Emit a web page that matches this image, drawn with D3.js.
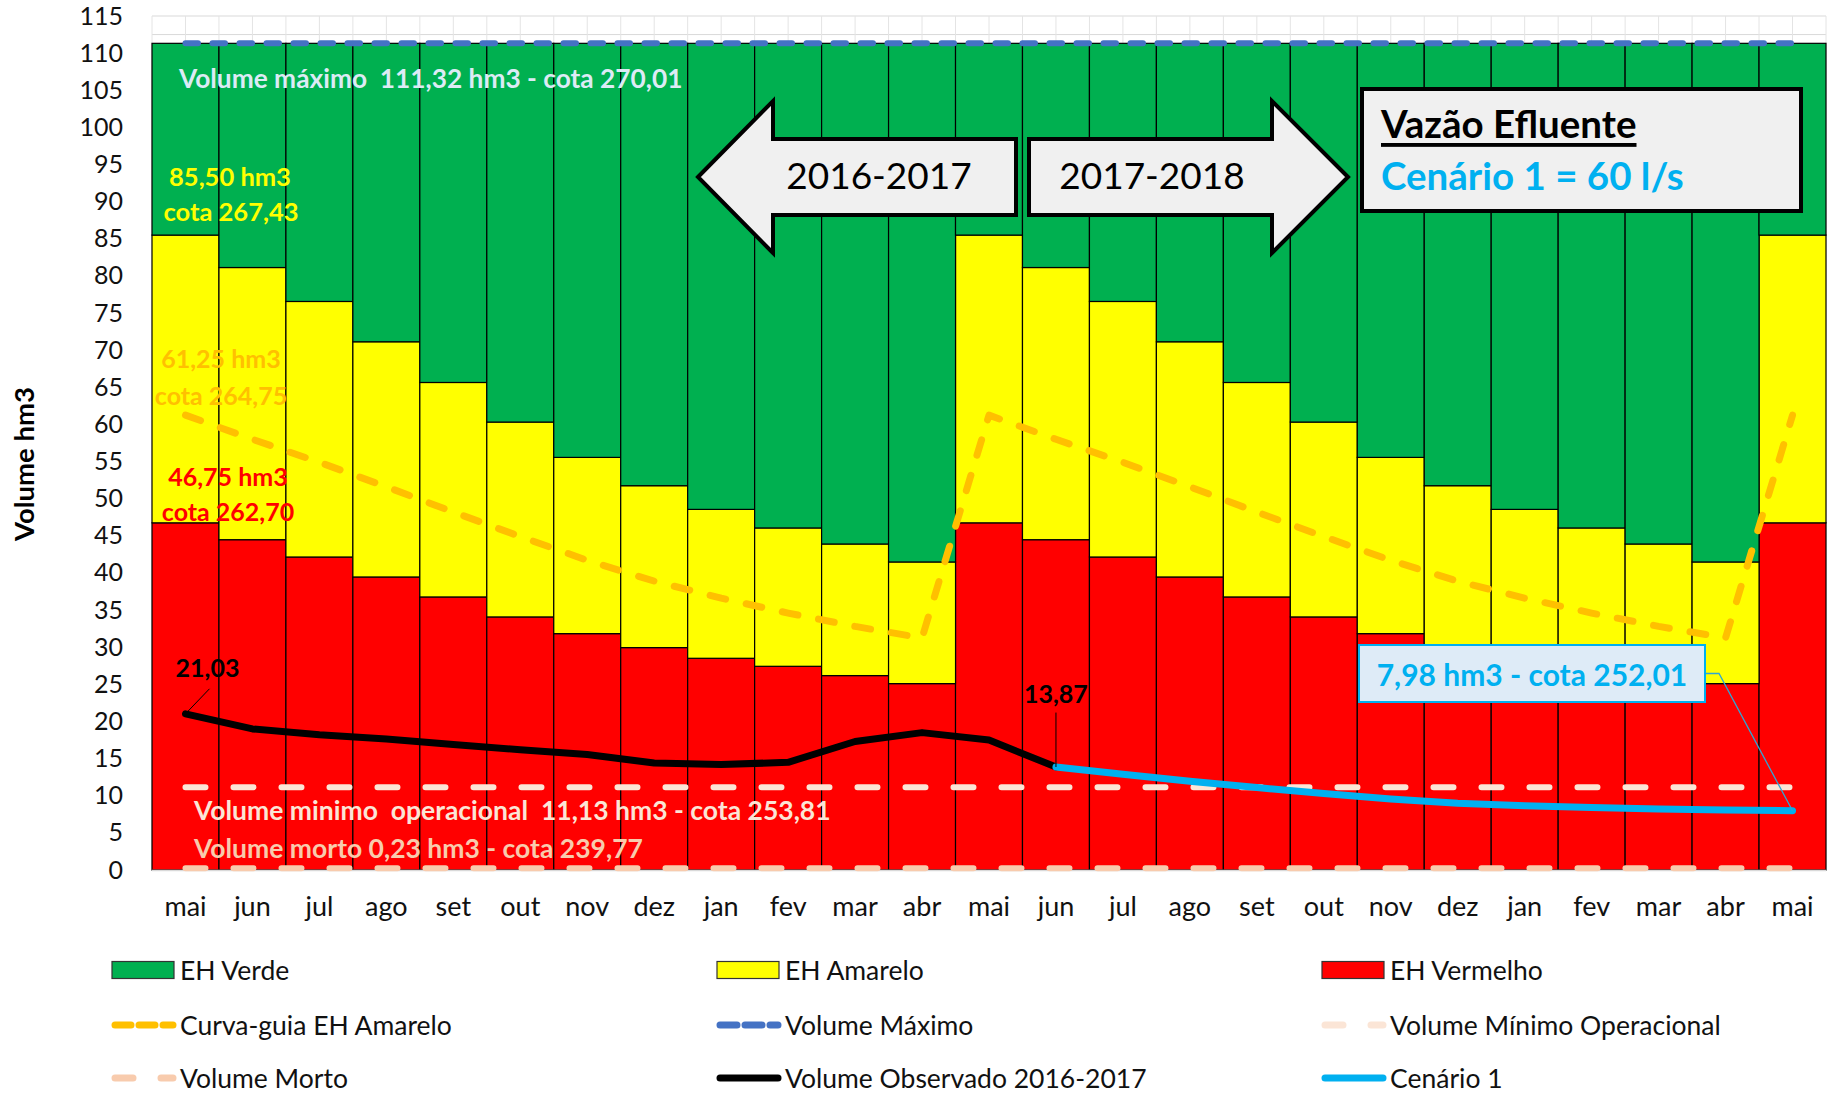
<!DOCTYPE html>
<html><head><meta charset="utf-8">
<script src="https://cdn.jsdelivr.net/npm/d3@7"></script>
<style>
body{margin:0;background:#fff}
svg{display:block}
text{font-family:Lato,'Open Sans',sans-serif;white-space:pre}
</style>
</head><body>
<svg id="c" width="1843" height="1096"></svg>
<script>
// ---------- DATA ----------
const months = ["mai","jun","jul","ago","set","out","nov","dez","jan","fev","mar","abr",
                "mai","jun","jul","ago","set","out","nov","dez","jan","fev","mar","abr","mai"];
const yTicks = [0,5,10,15,20,25,30,35,40,45,50,55,60,65,70,75,80,85,90,95,100,105,110,115];

// stacked bar segments (hm3)
const ehVermelho = [46.75,44.48,42.15,39.46,36.77,34.08,31.83,29.95,28.51,27.43,26.18,25.10,
                    46.75,44.48,42.15,39.46,36.77,34.08,31.83,29.95,28.51,27.43,26.18,25.10,46.75];
const ehAmarelo  = [38.75,36.65,34.41,31.67,28.88,26.24,23.73,21.80,20.05,18.63,17.72,16.38,
                    38.75,36.65,34.41,31.67,28.88,26.24,23.73,21.80,20.05,18.63,17.72,16.38,38.75];
const ehVerde    = [25.82,30.19,34.76,40.19,45.67,51.00,55.76,59.57,62.76,65.26,67.42,69.84,
                    25.82,30.19,34.76,40.19,45.67,51.00,55.76,59.57,62.76,65.26,67.42,69.84,25.82];

// line series (hm3)
const curvaGuia = [61.25,58.0,54.9,51.6,48.2,44.9,41.7,38.9,36.6,34.6,32.8,31.25,
                   61.25,58.0,54.9,51.6,48.2,44.9,41.7,38.9,36.6,34.6,32.8,31.25,61.25];
const volumeMaximo = [111.32,111.32,111.32,111.32,111.32,111.32,111.32,111.32,111.32,111.32,111.32,111.32,
                      111.32,111.32,111.32,111.32,111.32,111.32,111.32,111.32,111.32,111.32,111.32,111.32,111.32];
const volumeMinOp = [11.13,11.13,11.13,11.13,11.13,11.13,11.13,11.13,11.13,11.13,11.13,11.13,
                     11.13,11.13,11.13,11.13,11.13,11.13,11.13,11.13,11.13,11.13,11.13,11.13,11.13];
const volumeMorto = [0.23,0.23,0.23,0.23,0.23,0.23,0.23,0.23,0.23,0.23,0.23,0.23,
                     0.23,0.23,0.23,0.23,0.23,0.23,0.23,0.23,0.23,0.23,0.23,0.23,0.23];
const observado = [21.03,19.0,18.2,17.65,16.9,16.2,15.55,14.4,14.2,14.5,17.3,18.5,17.5,13.87,
                   null,null,null,null,null,null,null,null,null,null,null];
const cenario1 = [null,null,null,null,null,null,null,null,null,null,null,null,null,
                  13.87,12.9,11.95,11.1,10.3,9.55,9.0,8.65,8.4,8.2,8.08,7.98];

// ---------- LAYOUT ----------
const svg = d3.select("#c");
const L = 152, R = 1826, T = 16, B = 870;
const x = d3.scaleBand().domain(d3.range(months.length)).range([L, R]).padding(0);
const y = d3.scaleLinear().domain([0, 115]).range([B, T]);
const bw = x.bandwidth();
const cx = i => x(i) + bw / 2;
const FONT = "Lato,'Open Sans',sans-serif";

// gridlines
const g0 = svg.append("g");
g0.selectAll("line.h").data(d3.range(0, 115.01, 2.5)).join("line")
  .attr("x1", L).attr("x2", R).attr("y1", d => y(d)).attr("y2", d => y(d))
  .attr("stroke", "#d9d9d9").attr("stroke-width", 1);
g0.selectAll("line.v").data(d3.range(0, months.length * 2 + 1)).join("line")
  .attr("x1", d => L + d * bw / 2).attr("x2", d => L + d * bw / 2)
  .attr("y1", T).attr("y2", B)
  .attr("stroke", "#e4e4e4").attr("stroke-width", 1);

// stacked bars
const rows = months.map((m, i) => ({i, verm: ehVermelho[i], amar: ehAmarelo[i], verde: ehVerde[i]}));
const stack = d3.stack().keys(["verm", "amar", "verde"])(rows);
const colors = {verm: "#ff0000", amar: "#ffff00", verde: "#00b050"};
svg.append("g").selectAll("g").data(stack).join("g")
  .attr("fill", d => colors[d.key])
  .selectAll("rect").data(d => d).join("rect")
  .attr("x", d => x(d.data.i)).attr("width", bw)
  .attr("y", d => y(d[1])).attr("height", d => y(d[0]) - y(d[1]))
  .attr("stroke", "#000").attr("stroke-width", 1.2);

// x axis baseline
svg.append("line").attr("x1", L).attr("x2", R).attr("y1", B + 0.5).attr("y2", B + 0.5)
  .attr("stroke", "#d9d9d9").attr("stroke-width", 1.5);

// y axis
const ya = svg.append("g").attr("transform", `translate(${L},0)`)
  .call(d3.axisLeft(y).tickValues(yTicks).tickSize(0).tickPadding(29));
ya.select(".domain").remove();
ya.selectAll("text").attr("font-family", FONT).attr("font-size", 25).attr("fill", "#111");

// x axis labels
const xa = svg.append("g").attr("transform", `translate(0,${B})`)
  .call(d3.axisBottom(x).tickFormat(i => months[i]).tickSize(0).tickPadding(27));
xa.select(".domain").remove();
xa.selectAll("text").attr("font-family", FONT).attr("font-size", 27).attr("fill", "#111");

// y title
svg.append("text").attr("transform", "translate(23,464) rotate(-90)")
  .attr("text-anchor", "middle").attr("dominant-baseline", "central")
  .attr("font-weight", "bold").attr("font-size", 27.5).attr("fill", "#000").text("Volume hm3");

// lines
const line = d3.line().defined(d => d[1] != null).x(d => cx(d[0])).y(d => y(d[1]));
const idx = a => a.map((v, i) => [i, v]);
function drawLine(arr, color, w, dash, cap) {
  svg.append("path").attr("d", line(idx(arr))).attr("fill", "none")
    .attr("stroke", color).attr("stroke-width", w)
    .attr("stroke-dasharray", dash || null)
    .attr("stroke-linecap", cap || "round").attr("stroke-linejoin", "round");
}
drawLine(volumeMorto, "#f8cbad", 6, "20,28");
drawLine(volumeMinOp, "#fbe5d6", 6, "20,28");
drawLine(curvaGuia, "#ffc000", 7, "16,21");
drawLine(volumeMaximo, "#4472c4", 6, "12.5,14.5");
drawLine(observado, "#000", 7, null);
drawLine(cenario1, "#00b0f0", 7, null);

// ---------- ANNOTATIONS ----------
function label(xp, yp, txt, color, size, weight, anchor) {
  return svg.append("text").attr("x", xp).attr("y", yp)
    .attr("dominant-baseline", "central").attr("text-anchor", anchor || "start")
    .attr("font-size", size).attr("font-weight", weight || "bold")
    .attr("fill", color).text(txt);
}
label(179, y(106.7), "Volume máximo  111,32 hm3 - cota 270,01", "#dcebf5", 26.3);
label(230, y(93.4), "85,50 hm3", "#ffff00", 25.5, "bold", "middle");
label(231, y(88.7), "cota 267,43", "#ffff00", 25.5, "bold", "middle");
label(221, y(68.9), "61,25 hm3", "#ffc000", 25, "bold", "middle");
label(221, y(64.0), "cota 264,75", "#ffc000", 25, "bold", "middle");
label(228, y(53.0), "46,75 hm3", "#ff0000", 25, "bold", "middle");
label(228, y(48.3), "cota 262,70", "#ff0000", 25, "bold", "middle");

// data labels with leaders
label(cx(0) + 22, y(27.4), "21,03", "#000", 25, "bold", "middle");
svg.append("line").attr("x1", cx(0) + 24).attr("y1", y(24.4)).attr("x2", cx(0)).attr("y2", y(observado[0]))
  .attr("stroke", "#000").attr("stroke-width", 1);
label(cx(13), y(23.9), "13,87", "#000", 25, "bold", "middle");
svg.append("line").attr("x1", cx(13)).attr("y1", y(21.2)).attr("x2", cx(13)).attr("y2", y(observado[13]))
  .attr("stroke", "#000").attr("stroke-width", 1);

label(194, y(8.1), "Volume minimo  operacional  11,13 hm3 - cota 253,81", "#fbe5d6", 26.5);
label(194, y(2.9), "Volume morto 0,23 hm3 - cota 239,77", "#f8cbad", 26.5);

// callout for last scenario point
const bx0 = 1359, bx1 = 1705, by0 = 645, by1 = 702;
svg.append("path")
  .attr("d", `M${bx1},${(by0 + by1) / 2} L${bx1 + 14},${(by0 + by1) / 2} L${cx(24)},${y(cenario1[24])}`)
  .attr("fill", "none").attr("stroke", "#2fa6d4").attr("stroke-width", 1.3);
svg.append("rect").attr("x", bx0).attr("y", by0).attr("width", bx1 - bx0).attr("height", by1 - by0)
  .attr("fill", "#deebf7").attr("stroke", "#00b0f0").attr("stroke-width", 2);
label((bx0 + bx1) / 2, (by0 + by1) / 2, "7,98 hm3 - cota 252,01", "#00b0f0", 30, "bold", "middle");

// arrows
const arrowStyle = s => s.attr("fill", "#f0f0f0").attr("stroke", "#000").attr("stroke-width", 4).attr("stroke-linejoin", "miter");
arrowStyle(svg.append("polygon")
  .attr("points", [[698,177],[773,101],[773,139],[1016,139],[1016,215],[773,215],[773,253]].map(p => p.join(",")).join(" ")));
arrowStyle(svg.append("polygon")
  .attr("points", [[1348,177],[1272,101],[1272,139],[1029,139],[1029,215],[1272,215],[1272,253]].map(p => p.join(",")).join(" ")));
label(879, 174, "2016-2017", "#000", 37, "normal", "middle");
label(1152, 174, "2017-2018", "#000", 37, "normal", "middle");

// info box
svg.append("rect").attr("x", 1362).attr("y", 89).attr("width", 439).attr("height", 122)
  .attr("fill", "#f0f0f0").attr("stroke", "#000").attr("stroke-width", 4);
label(1381, 123, "Vazão Efluente", "#000", 38.5, "bold", "start").attr("text-decoration", "underline");
label(1381, 175, "Cenário 1 = 60 l/s", "#00b0f0", 38.5, "bold", "start");

// ---------- LEGEND ----------
const legend = [
  {name: "EH Verde", type: "rect", color: "#00b050", col: 0, row: 0},
  {name: "EH Amarelo", type: "rect", color: "#ffff00", col: 1, row: 0},
  {name: "EH Vermelho", type: "rect", color: "#ff0000", col: 2, row: 0},
  {name: "Curva-guia EH Amarelo", type: "line", color: "#ffc000", dash: "16,8", w: 7, col: 0, row: 1},
  {name: "Volume Máximo", type: "line", color: "#4472c4", dash: "17,8", w: 7, col: 1, row: 1},
  {name: "Volume Mínimo Operacional", type: "line", color: "#fbe5d6", dash: "18,28", w: 7, col: 2, row: 1},
  {name: "Volume Morto", type: "line", color: "#f8cbad", dash: "18,28", w: 7, col: 0, row: 2},
  {name: "Volume Observado 2016-2017", type: "line", color: "#000", w: 7, col: 1, row: 2},
  {name: "Cenário 1", type: "line", color: "#00b0f0", w: 7, col: 2, row: 2}
];
const colX = [112, 717, 1322], rowY = [970, 1025, 1078];
const lg = svg.append("g").selectAll("g").data(legend).join("g")
  .attr("transform", d => `translate(${colX[d.col]},${rowY[d.row]})`);
lg.filter(d => d.type === "rect").append("rect")
  .attr("x", 0).attr("y", -8.5).attr("width", 62).attr("height", 17)
  .attr("fill", d => d.color).attr("stroke", "#333").attr("stroke-width", 1.2);
lg.filter(d => d.type === "line").append("line")
  .attr("x1", 3).attr("x2", 61).attr("y1", 0).attr("y2", 0)
  .attr("stroke", d => d.color).attr("stroke-width", d => d.w)
  .attr("stroke-dasharray", d => d.dash || null).attr("stroke-linecap", "round");
lg.append("text").attr("x", 68).attr("y", 0).attr("dominant-baseline", "central")
  .attr("font-size", 26.5).attr("fill", "#111").text(d => d.name);
</script>
</body></html>
